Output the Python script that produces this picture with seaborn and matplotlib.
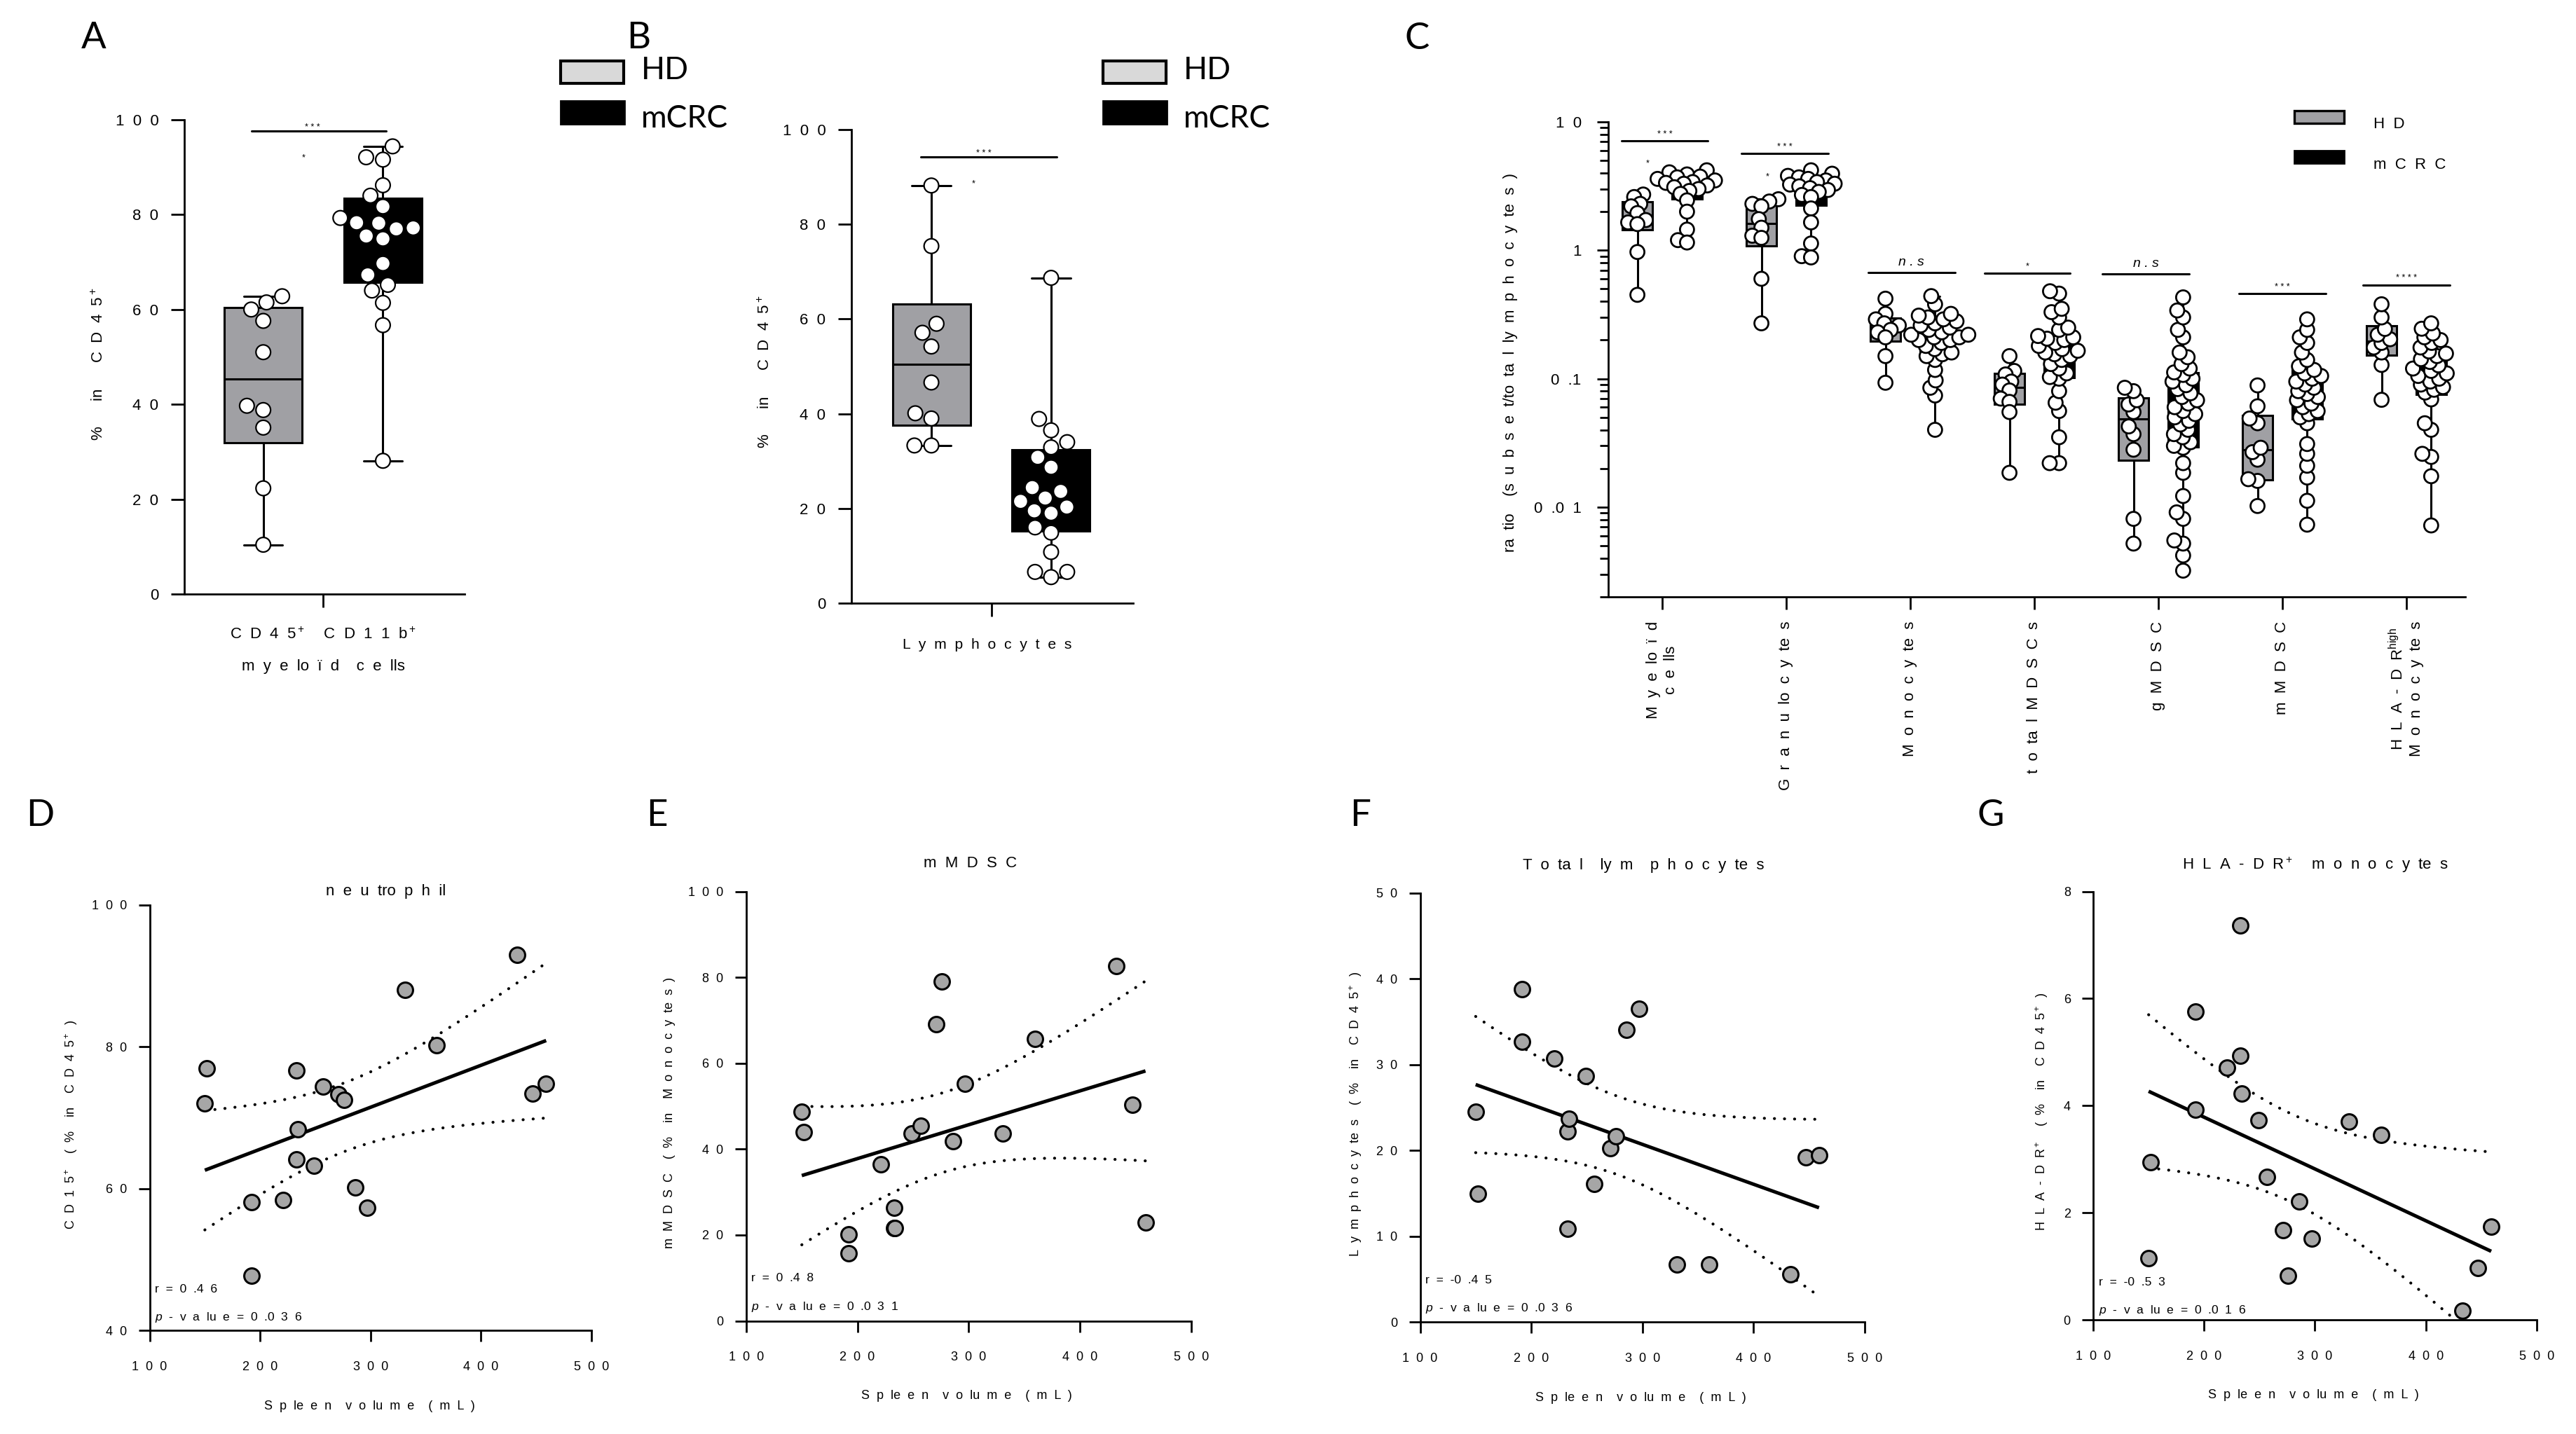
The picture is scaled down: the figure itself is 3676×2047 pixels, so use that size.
import numpy as np
import pandas as pd
import matplotlib
matplotlib.use("Agg")
import matplotlib.pyplot as plt
from matplotlib.patches import Rectangle
from matplotlib.ticker import FixedLocator, LogLocator, NullFormatter
import seaborn as sns
import warnings

warnings.filterwarnings("ignore")

# ------------------------------------------------------------------ data
groups = ["HD", "mCRC"]

# panel A : CD45+ CD11b+ myeloid cells (% in CD45+)
A_HD = [62.8, 61.5, 60.0, 57.6, 51.0, 39.7, 38.8, 35.1, 22.3, 10.4]
A_mCRC = [94.4, 91.6, 92.1, 86.2, 84.0, 81.7, 79.3, 78.2, 77.0, 78.3,
          77.2, 74.9, 75.5, 69.7, 67.3, 65.2, 64.0, 61.4, 56.7, 28.1]
# panel B : lymphocytes (% in CD45+)
B_HD = [88.2, 75.4, 59.0, 57.1, 54.2, 46.6, 40.1, 39.0, 33.3, 33.3]
B_mCRC = [68.7, 38.9, 36.5, 34.0, 32.9, 30.8, 28.7, 24.4, 23.6, 22.2,
          21.5, 20.3, 19.5, 19.0, 16.0, 14.9, 10.8, 6.6, 6.6, 5.5]
ab_yticks = [0, 20, 40, 60, 80, 100]

# panel C : ratio subset / total lymphocytes
c_cats = ["Myeloid cells", "Granulocytes", "Monocytes", "total MDSCs",
          "gMDSC", "mMDSC", "HLA-DRhigh Monocytes"]
c_tick_labels = ["M y e lo ï d\nc e lls", "G r a n u lo c y te s",
                 "M o n o c y te s", "t o ta l M D S C s", "g M D S C",
                 "m M D S C", "H L A - D R$^{high}$\nM o n o c y te s"]
c_ytick_labels = ["0 .0 1", "0 .1", "1", "1 0"]
c_hd_myeloid = [2.72, 2.6, 2.3, 2.2, 1.95, 1.72, 1.65, 1.6, 0.97, 0.45]
c_crc_myeloid = [4.2, 4.05, 3.9, 3.75, 3.7, 3.6, 3.5, 3.4, 3.35, 3.3,
                 3.2, 3.1, 3.0, 2.9, 2.75, 2.45, 2.0, 1.45, 1.2, 1.15]
c_hd_gran = [2.5, 2.4, 2.3, 2.2, 1.75, 1.5, 1.3, 1.25, 0.6, 0.27]
c_crc_gran = [4.2, 3.95, 3.8, 3.7, 3.6, 3.5, 3.4, 3.3, 3.25, 3.15,
              3.05, 2.95, 2.85, 2.7, 2.6, 2.12, 1.65, 1.13, 0.9, 0.88]
c_hd_mono = [0.42, 0.32, 0.29, 0.27, 0.26, 0.24, 0.23, 0.21, 0.15, 0.093]
c_crc_mono = [0.04, 0.074, 0.085, 0.097, 0.117, 0.14, 0.15, 0.155, 0.16, 0.17,
              0.18, 0.19, 0.2, 0.2, 0.21, 0.21, 0.22, 0.22, 0.23, 0.24,
              0.25, 0.26, 0.27, 0.28, 0.29, 0.3, 0.31, 0.32, 0.38, 0.44]
c_hd_tot = [0.15, 0.115, 0.108, 0.095, 0.09, 0.081, 0.07, 0.066, 0.055, 0.0185]
c_crc_tot = [0.022, 0.022, 0.035, 0.056, 0.065, 0.08, 0.1, 0.103, 0.11, 0.12,
             0.13, 0.14, 0.15, 0.155, 0.16, 0.165, 0.17, 0.18, 0.19, 0.2,
             0.205, 0.21, 0.215, 0.24, 0.25, 0.3, 0.33, 0.35, 0.46, 0.48]
c_hd_g = [0.0052, 0.0081, 0.028, 0.037, 0.0425, 0.055, 0.063, 0.068, 0.08, 0.085]
c_crc_g = [0.0032, 0.0042, 0.0052, 0.0055, 0.0081, 0.0091, 0.0122, 0.0185, 0.022, 0.029,
           0.030, 0.032, 0.035, 0.037, 0.04, 0.044, 0.047, 0.05, 0.053, 0.056,
           0.06, 0.064, 0.068, 0.072, 0.077, 0.083, 0.089, 0.095, 0.1, 0.107,
           0.112, 0.12, 0.13, 0.147, 0.16, 0.21, 0.24, 0.3, 0.34, 0.43]
c_hd_m = [0.0102, 0.016, 0.0165, 0.0234, 0.0268, 0.029, 0.045, 0.049, 0.061, 0.0887]
c_crc_m = [0.0073, 0.0112, 0.017, 0.021, 0.026, 0.031, 0.045, 0.05, 0.053, 0.056,
           0.06, 0.064, 0.068, 0.072, 0.076, 0.08, 0.085, 0.09, 0.095, 0.1,
           0.105, 0.11, 0.117, 0.125, 0.14, 0.16, 0.19, 0.21, 0.24, 0.29]
c_hd_hla = [0.0685, 0.128, 0.16, 0.175, 0.19, 0.203, 0.22, 0.244, 0.3, 0.38]
c_crc_hla = [0.0072, 0.0174, 0.0246, 0.026, 0.04, 0.045, 0.069, 0.078, 0.082, 0.086,
             0.09, 0.095, 0.1, 0.105, 0.11, 0.115, 0.12, 0.127, 0.135, 0.142,
             0.15, 0.157, 0.163, 0.175, 0.19, 0.2, 0.21, 0.225, 0.245, 0.27]
c_sig_y = [7.1, 5.65, 0.673, 0.66, 0.655, 0.459, 0.536]
c_sig_text = ["* * *", "* * *", "n . s", "*", "n . s", "* * *", "* * * *"]

# panels D-G : correlation with spleen volume
spleen_volume = [150, 152, 192, 192, 221, 233, 233, 234, 249, 257,
                 271, 276, 286, 297, 331, 360, 433, 447, 459]
D_neutrophil = [72.0, 77.0, 58.1, 47.7, 58.4, 76.7, 64.1, 68.4, 63.2, 74.4,
                73.3, 72.5, 60.2, 57.3, 88.0, 80.2, 93.0, 73.4, 74.8]
E_mMDSC = [48.7, 43.9, 20.1, 15.7, 36.5, 26.3, 21.7, 21.7, 43.6, 45.4,
           69.1, 79.0, 41.9, 55.3, 43.6, 65.6, 82.7, 50.3, 23.0]
F_lymph = [24.5, 15.0, 38.8, 32.7, 30.7, 22.2, 10.9, 23.7, 28.7, 16.1,
           20.3, 21.7, 34.1, 36.5, 6.7, 6.7, 5.6, 19.2, 19.5]
G_hla = [1.16, 2.95, 5.76, 3.93, 4.71, 7.36, 4.93, 4.23, 3.73, 2.67,
         1.68, 0.83, 2.21, 1.52, 3.70, 3.46, 0.17, 0.97, 1.75]
reg_titles = ["n e u tro p h il", "m M D S C", "T o ta l  ly m  p h o c y te s",
              "H L A - D R$^+$  m o n o c y te s"]
reg_ylabels = ["C D 1 5$^+$  ( %  in  C D 4 5$^+$ )",
               "m M D S C  ( %  in  M o n o c y te s )",
               "L y m p h o c y te s  ( %  in  C D 4 5$^+$ )",
               "H L A - D R$^+$  ( %  in  C D 4 5$^+$ )"]
reg_xlabel = "S p le e n  v o lu m e  ( m L )"
reg_r = ["0 .4 6", "0 .4 8", "-0 .4 5", "-0 .5 3"]
reg_p = ["0 .0 3 6", "0 .0 3 1", "0 .0 3 6", "0 .0 1 6"]
reg_yticks = [[40, 60, 80, 100], [0, 20, 40, 60, 80, 100],
              [0, 10, 20, 30, 40, 50], [0, 2, 4, 6, 8]]
x_ticks = [100, 200, 300, 400, 500]
T95 = 2.110  # t critical value, df = 17

# ------------------------------------------------------------------ style
sns.set_theme(style="ticks", rc={"axes.edgecolor": "black", "xtick.color": "black",
                                 "ytick.color": "black", "text.color": "black",
                                 "axes.labelcolor": "black"})
plt.rcParams["font.family"] = ["Liberation Sans", "DejaVu Sans"]
plt.rcParams["mathtext.fontset"] = "custom"
plt.rcParams["mathtext.rm"] = "Liberation Sans"
plt.rcParams["mathtext.it"] = "Liberation Sans:italic"
plt.rcParams["mathtext.default"] = "regular"

W, H, DPI = 3676, 2047, 200
fig = plt.figure(figsize=(W / DPI, H / DPI), dpi=DPI)
fig.patch.set_facecolor("white")

GRAY = "#a0a0a4"
PT_GRAY = "#a6a6a6"
LW = 1.1


def sp(s):
    """GraphPad-like wide letter spacing."""
    return s.replace(" ", "  ")


def px_axes(l, t, r, b):
    return fig.add_axes([l / W, 1 - b / H, (r - l) / W, (b - t) / H])


def ftext(x, y, s, **kw):
    fig.text(x / W, 1 - y / H, s, **kw)


def frect(x, y, w, h, fc, lw=1.3):
    fig.add_artist(Rectangle((x / W, 1 - (y + h) / H), w / W, h / H,
                             transform=fig.transFigure, facecolor=fc,
                             edgecolor="black", linewidth=lw))


def gp_stats(vals):
    v = np.asarray(vals, float)
    q1, med, q3 = np.percentile(v, [25, 50, 75], method="weibull")
    return dict(med=med, q1=q1, q3=q3, whislo=v.min(), whishi=v.max(), fliers=[])


def draw_boxes(ax, lists, positions, colors, width, capw):
    bp = ax.bxp([gp_stats(d) for d in lists], positions=positions, widths=width,
                capwidths=capw, patch_artist=True, showfliers=False, manage_ticks=False,
                boxprops=dict(edgecolor="black", linewidth=LW),
                medianprops=dict(color="black", linewidth=LW),
                whiskerprops=dict(color="black", linewidth=LW),
                capprops=dict(color="black", linewidth=LW))
    for patch, c in zip(bp["boxes"], colors):
        patch.set_facecolor(c)


def clean(ax):
    ax.spines["top"].set_visible(False)
    ax.spines["right"].set_visible(False)
    ax.spines["left"].set_linewidth(1.0)
    ax.spines["bottom"].set_linewidth(1.0)
    ax.set_xlabel("")
    ax.set_ylabel("")


# ------------------------------------------------------------------ A & B
def two_group_panel(ax, hd, crc, label):
    df = pd.DataFrame({"cell": label, "group": ["HD"] * len(hd) + ["mCRC"] * len(crc),
                       "value": hd + crc})
    draw_boxes(ax, [hd, crc], [-0.2, 0.2], [GRAY, "black"], 0.26, 0.13)
    sns.swarmplot(data=df, x="cell", y="value", hue="group", hue_order=groups, dodge=True,
                  palette={"HD": "white", "mCRC": "white"}, edgecolor="black",
                  linewidth=0.8, size=7.5, legend=False, ax=ax, zorder=3)
    clean(ax)
    ax.set_ylim(0, 100)
    ax.set_yticks(ab_yticks)
    ax.set_yticklabels([sp(" ".join(str(v))) for v in ab_yticks])
    ax.set_xticks([0])
    ax.set_xticklabels([""])
    ax.tick_params(axis="y", length=6.7, width=1.0, pad=6.5, labelsize=8)
    ax.tick_params(axis="x", length=7, width=1.0)


axA = px_axes(263, 171, 663, 848)
two_group_panel(axA, A_HD, A_mCRC, "myeloid")
axA.set_xlim(-0.464, 0.473)
axA.plot([-0.24, 0.21], [97.6, 97.6], color="black", lw=LW, clip_on=False)
axA.text(-0.035, 98.4, "* * *", ha="center", va="center", fontsize=4.5)
axA.text(-0.066, 91.9, "*", ha="center", va="center", fontsize=4.5)

axB = px_axes(1215, 185, 1617, 861)
two_group_panel(axB, B_HD, B_mCRC, "lymphocytes")
axB.set_xlim(-0.467, 0.474)
axB.plot([-0.235, 0.219], [94.2, 94.2], color="black", lw=LW, clip_on=False)
axB.text(-0.026, 95.0, "* * *", ha="center", va="center", fontsize=4.5)
axB.text(-0.06, 88.5, "*", ha="center", va="center", fontsize=4.5)

ftext(141, 520, sp("%   in   C D 4 5$^+$"), rotation=90, ha="center", va="center", fontsize=8)
ftext(461, 912, sp("C D 4 5$^+$  C D 1 1 b$^+$"), ha="center", va="baseline", fontsize=8)
ftext(461, 957, sp("m y e lo ï d  c e lls"), ha="center", va="baseline", fontsize=8)
ftext(1092, 531, sp("%   in   C D 4 5$^+$"), rotation=90, ha="center", va="center", fontsize=8)
ftext(1409, 926, sp("L y m p h o c y t e s"), ha="center", va="baseline", fontsize=7.6)

# legends of A and B
for lx, tx in [(800, 915), (1574, 1689)]:
    frect(lx, 87, 90, 32, "#d9d9d9", lw=1.5)
    frect(lx, 144, 91, 33, "black", lw=1.0)
    ftext(tx, 113, "HD", ha="left", va="baseline", fontsize=16, family="Lato")
    ftext(tx, 182, "mCRC", ha="left", va="baseline", fontsize=16, family="Lato")

# ------------------------------------------------------------------ C
axC = px_axes(2295, 174, 3518, 852)
axC.set_yscale("log")
hd_lists = [c_hd_myeloid, c_hd_gran, c_hd_mono, c_hd_tot, c_hd_g, c_hd_m, c_hd_hla]
crc_lists = [c_crc_myeloid, c_crc_gran, c_crc_mono, c_crc_tot, c_crc_g, c_crc_m, c_crc_hla]
rows = []
for cat, hd, crc in zip(c_cats, hd_lists, crc_lists):
    rows += [(cat, "HD", v) for v in hd] + [(cat, "mCRC", v) for v in crc]
dfC = pd.DataFrame(rows, columns=["cat", "group", "value"])

box_lists, box_pos, box_cols = [], [], []
for i in range(len(c_cats)):
    box_lists += [hd_lists[i], crc_lists[i]]
    box_pos += [i - 0.2, i + 0.2]
    box_cols += [GRAY, "black"]
draw_boxes(axC, box_lists, box_pos, box_cols, 0.24, 0.08)
n_before = len(axC.collections)
# swarm laid out compactly (GraphPad-like overlapping dots), then shown at full size
sns.swarmplot(data=dfC, x="cat", y="value", hue="group", order=c_cats, hue_order=groups,
              dodge=True, palette={"HD": "white", "mCRC": "white"}, edgecolor="black",
              linewidth=1.0, size=3.6, legend=False, ax=axC, zorder=3)
swarm_colls = axC.collections[n_before:]
clean(axC)
axC.set_ylim(0.002, 10)
axC.set_xlim(-0.435, 6.475)
axC.yaxis.set_major_locator(FixedLocator([0.01, 0.1, 1, 10]))
axC.set_yticklabels([sp(s) for s in c_ytick_labels])
axC.yaxis.set_minor_locator(LogLocator(base=10, subs=np.arange(2, 10)))
axC.yaxis.set_minor_formatter(NullFormatter())
axC.set_xticks(range(len(c_cats)))
axC.set_xticklabels([sp(s) for s in c_tick_labels], rotation=90, ha="center", va="top")
for lbl in axC.get_xticklabels():
    lbl.set_multialignment("center")
axC.tick_params(axis="y", which="major", length=5.8, width=1.0, pad=8, labelsize=8)
axC.tick_params(axis="y", which="minor", length=4.2, width=1.0)
axC.tick_params(axis="x", length=6.5, width=1.0, pad=6, labelsize=8)

sig_x0 = [-0.33, -0.36, -0.34, -0.40, -0.45, -0.35, -0.35]
sig_x1 = [0.37, 0.34, 0.36, 0.29, 0.25, 0.35, 0.35]
for i, (y, txt) in enumerate(zip(c_sig_y, c_sig_text)):
    axC.plot([i + sig_x0[i], i + sig_x1[i]], [y, y], color="black", lw=LW)
    xc = i + (sig_x0[i] + sig_x1[i]) / 2
    if txt.startswith("n"):
        axC.text(xc, y * 1.2, txt, ha="center", va="center", fontsize=7, fontstyle="italic")
    else:
        axC.text(xc, y * 1.13, txt, ha="center", va="center", fontsize=4.5)
axC.text(-0.12, 4.72, "*", ha="center", va="center", fontsize=4.5)
axC.text(0.85, 3.74, "*", ha="center", va="center", fontsize=4.5)

ftext(2155, 517, sp("ra tio  (s u b s e t/to ta l ly m p h o c y te s )"), rotation=90,
      ha="center", va="center", fontsize=8)
frect(3274, 158, 71, 18, GRAY, lw=1.2)
frect(3274, 215, 71, 18, "black", lw=1.0)
ftext(3387, 183, sp("H D"), ha="left", va="baseline", fontsize=8)
ftext(3387, 241, sp("m C R C"), ha="left", va="baseline", fontsize=8)

# ------------------------------------------------------------------ D-G
reg_boxes = [(213.5, 1292, 844, 1899), (1064.8, 1272.5, 1699.7, 1885.6),
             (2026.5, 1274.9, 2660.8, 1887.4), (2987, 1272.5, 3619.9, 1884.4)]
reg_data = [D_neutrophil, E_mMDSC, F_lymph, G_hla]
title_pos = [(551, 1278), (1385, 1238), (2345, 1241), (3304, 1241)]
ylab_pos = [(102, 1605), (955, 1588), (1935, 1590), (2914, 1587)]
xlab_pos = [(527, 2012), (1379, 1997), (2341, 2000), (3301, 1996)]
txt_y = [(0.097, 0.031), (0.099, 0.032), (0.097, 0.032), (0.088, 0.022)]

for k in range(4):
    ax = px_axes(*reg_boxes[k])
    x = np.asarray(spleen_volume, float)
    y = np.asarray(reg_data[k], float)
    sns.regplot(x=x, y=y, scatter=False, ci=None, truncate=True, color="black",
                line_kws=dict(lw=1.8, solid_capstyle="butt"), ax=ax)
    n = len(x)
    b, a = np.polyfit(x, y, 1)
    s = np.sqrt(np.sum((y - (a + b * x)) ** 2) / (n - 2))
    xx = np.linspace(x.min(), x.max(), 150)
    se = s * np.sqrt(1 / n + (xx - x.mean()) ** 2 / np.sum((x - x.mean()) ** 2))
    for sign in (1, -1):
        ax.plot(xx, a + b * xx + sign * T95 * se, color="black", lw=1.5,
                ls=(0, (0.05, 3.4)), dash_capstyle="round")
    sns.scatterplot(x=x, y=y, s=62, color=PT_GRAY, edgecolor="black", linewidth=1.1,
                    ax=ax, zorder=3, legend=False)
    clean(ax)
    yt = reg_yticks[k]
    ax.set_xlim(100, 500)
    ax.set_ylim(yt[0], yt[-1])
    ax.set_yticks(yt)
    ax.set_yticklabels([sp(" ".join(str(v))) for v in yt])
    ax.set_xticks(x_ticks)
    ax.set_xticklabels([sp(" ".join(str(v))) for v in x_ticks])
    ax.tick_params(axis="y", length=5.6, width=1.0, pad=6, labelsize=6.5)
    ax.tick_params(axis="x", length=5.7, width=1.0, pad=10, labelsize=6.5)
    ax.text(0.012, txt_y[k][0], sp("r = " + reg_r[k]), transform=ax.transAxes,
            ha="left", va="center", fontsize=6.3)
    ax.text(0.012, txt_y[k][1], sp("$\\mathit{p}$ - v a lu e = " + reg_p[k]),
            transform=ax.transAxes, ha="left", va="center", fontsize=6.3)
    ftext(*title_pos[k], sp(reg_titles[k]), ha="center", va="baseline", fontsize=8)
    ftext(*ylab_pos[k], sp(reg_ylabels[k]), rotation=90, ha="center", va="center",
          fontsize=6.5)
    ftext(*xlab_pos[k], sp(reg_xlabel), ha="center", va="baseline", fontsize=6.5)

# ------------------------------------------------------------------ panel letters
for letter, (lx, ly) in zip("ABCDEFG", [(116, 69), (894, 69), (2005, 70), (37, 1179),
                                         (922, 1179), (1926, 1179), (2822, 1179)]):
    ftext(lx, ly, letter, ha="left", va="baseline", fontsize=19, family="Lato")

# freeze the compact swarm layout of panel C, then enlarge the dots
fig.canvas.draw()
for coll in swarm_colls:
    if "draw" in coll.__dict__:
        del coll.draw
    coll.set_sizes([7.2 ** 2])

fig.savefig("out.png", dpi=DPI, facecolor="white")
